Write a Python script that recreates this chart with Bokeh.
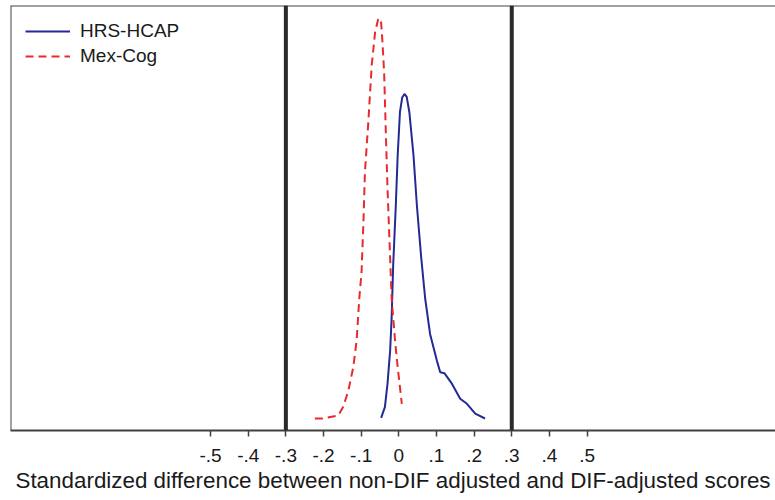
from bokeh.plotting import figure
from bokeh.models import FixedTicker, Span, Range1d, Legend, LegendItem
from bokeh.embed import file_html
from bokeh.resources import INLINE

# ---- data ----
mex_x = [-0.223, -0.201, -0.161, -0.148, -0.134, -0.121, -0.112, -0.105, -0.099,
         -0.094, -0.090, -0.081, -0.072, -0.063, -0.055, -0.050, -0.047, -0.044,
         -0.039, -0.034, -0.030, -0.025, -0.019, -0.010, -0.003, 0.008]
mex_y = [0.00, 0.00, 0.10, 0.38, 0.93, 1.71, 2.60, 4.00, 4.88,
         6.54, 8.21, 9.88, 11.77, 12.88, 13.30, 13.34, 13.20, 12.66,
         11.54, 9.32, 7.66, 5.99, 3.99, 2.60, 1.71, 0.49]

hrs_x = [-0.047, -0.037, -0.030, -0.023, -0.019, -0.015, -0.008, -0.003, 0.003,
         0.009, 0.015, 0.021, 0.028, 0.039, 0.048, 0.059, 0.070, 0.083, 0.101,
         0.110, 0.121, 0.141, 0.163, 0.181, 0.203, 0.229]
hrs_y = [0.02, 0.38, 1.16, 2.27, 3.38, 5.10, 7.10, 8.77, 10.21,
         10.70, 10.82, 10.72, 10.21, 8.77, 7.10, 5.43, 4.00, 2.82, 1.93,
         1.54, 1.51, 1.16, 0.66, 0.49, 0.16, 0.00]

ref_lines = [-0.3, 0.3]
tick_values = [-0.5, -0.4, -0.3, -0.2, -0.1, 0.0, 0.1, 0.2, 0.3, 0.4, 0.5]
tick_labels = ["-.5", "-.4", "-.3", "-.2", "-.1", "0", ".1", ".2", ".3", ".4", ".5"]
series_names = ["HRS-HCAP", "Mex-Cog"]
x_title = "Standardized difference between non-DIF adjusted and DIF-adjusted scores"

FONT = "Liberation Sans"
X0, X1 = -1.0314, 1.0005
Y0, Y1 = -0.4, 13.767

p = figure(width=775, height=500, output_backend="svg", toolbar_location=None,
           x_range=Range1d(X0, X1), y_range=Range1d(Y0, Y1),
           y_axis_location=None, min_border_left=10, min_border_right=0,
           min_border_top=5, min_border_bottom=70)

p.grid.visible = False
p.outline_line_color = None
p.background_fill_color = "white"
p.border_fill_color = "white"

# frame borders (left and top only; the right edge lies outside the picture)
p.add_layout(Span(location=X0, dimension="height", line_color="#444444", line_width=2))
p.add_layout(Span(location=Y1, dimension="width", line_color="#444444", line_width=2))

for loc in ref_lines:
    p.add_layout(Span(location=loc, dimension="height", line_color="#2a2a2a", line_width=4))

r_hrs = p.line(hrs_x, hrs_y, line_color="#232a96", line_width=2)
r_mex = p.line(mex_x, mex_y, line_color="#e62a2d", line_width=2, line_dash="8 5")

ax = p.xaxis[0]
ax.ticker = FixedTicker(ticks=tick_values)
ax.major_label_overrides = {v: l for v, l in zip(tick_values, tick_labels)}
ax.minor_tick_line_color = None
ax.major_tick_in = 0
ax.major_tick_out = 6
ax.major_tick_line_color = "#404040"
ax.major_tick_line_width = 1.5
ax.axis_line_color = "#404040"
ax.axis_line_width = 2
ax.major_label_text_font = FONT
ax.major_label_text_font_size = "19px"
ax.major_label_text_color = "#1a1a1a"
ax.major_label_standoff = 12
ax.axis_label = x_title
ax.axis_label_text_font = FONT
ax.axis_label_text_font_size = "22.4px"
ax.axis_label_text_font_style = "normal"
ax.axis_label_text_color = "#1a1a1a"
ax.axis_label_standoff = 3

legend = Legend(items=[LegendItem(label=series_names[0], renderers=[r_hrs]),
                       LegendItem(label=series_names[1], renderers=[r_mex])],
                location="top_left")
legend.border_line_color = None
legend.background_fill_alpha = 0
legend.label_text_font = FONT
legend.label_text_font_size = "19px"
legend.label_text_color = "#1a1a1a"
legend.glyph_width = 45
legend.glyph_height = 22
legend.label_height = 22
legend.label_standoff = 10
legend.spacing = 3
legend.margin = 15
legend.padding = 12
p.add_layout(legend)

open("out.html", "w").write(file_html(p, INLINE))
